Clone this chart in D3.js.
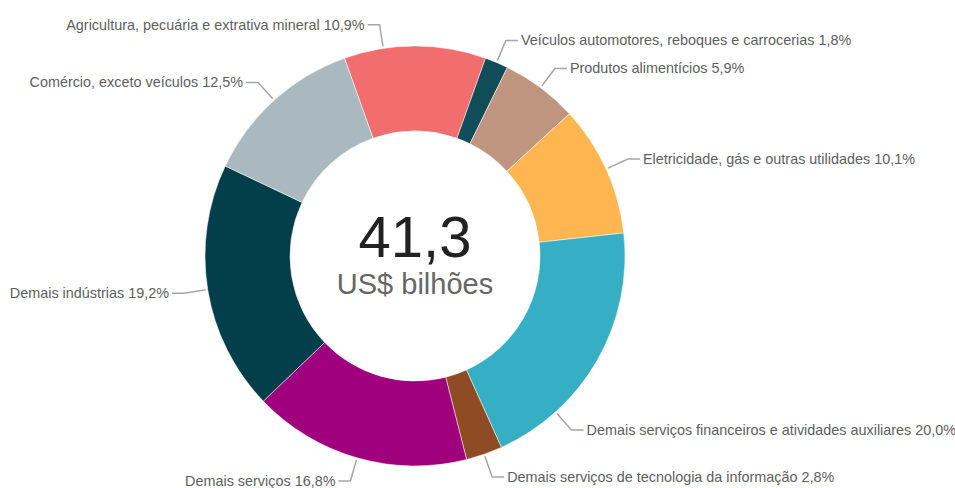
<!DOCTYPE html>
<html><head><meta charset="utf-8">
<script src="https://cdn.jsdelivr.net/npm/d3@7"></script>
<style>html,body{margin:0;padding:0;background:#fff;}svg{display:block;}</style>
</head><body>
<svg id="chart" width="955" height="488"></svg>
<script>
const categories = [
  "Agricultura, pecuária e extrativa mineral",
  "Veículos automotores, reboques e carrocerias",
  "Produtos alimentícios",
  "Eletricidade, gás e outras utilidades",
  "Demais serviços financeiros e atividades auxiliares",
  "Demais serviços de tecnologia da informação",
  "Demais serviços",
  "Demais indústrias",
  "Comércio, exceto veículos"
];
const shares = [10.9, 1.8, 5.9, 10.1, 20.0, 2.8, 16.8, 19.2, 12.5];
const colors = ["#f26d6d", "#114c59", "#c09580", "#ffb651", "#36afc4", "#8f4b23", "#a0007e", "#023f4a", "#a9b9bf"];
const total = "41,3";
const unit = "US$ bilhões";
// label connector attach shift (degrees), layout only
const anchorShift = [-8.7, 0, 0, 0, 18.3, 0, 0, 0, 0];

const svg = d3.select("#chart");
const cx = 415, cy = 256, rOuter = 210, rInner = 125, rElbow = 234, leg = 12, gap = 3;
const g = svg.append("g").attr("transform", `translate(${cx},${cy})`);

const start = -Math.PI * shares[0] / 100;
const pie = d3.pie().sort(null).value(d => d.v).startAngle(start).endAngle(start + 2 * Math.PI);
const data = pie(categories.map((c, i) => ({c, v: shares[i], i})));
const arc = d3.arc().innerRadius(rInner).outerRadius(rOuter);

g.selectAll("path.slice").data(data).join("path")
  .attr("class", "slice")
  .attr("d", arc)
  .attr("fill", d => colors[d.data.i])
  .attr("stroke", "#fff").attr("stroke-width", 0.5);

const fmt = v => v.toFixed(1).replace(".", ",") + "%";

data.forEach(d => {
  const a = (d.startAngle + d.endAngle) / 2 + anchorShift[d.data.i] * Math.PI / 180;
  const sx = Math.sin(a), sy = -Math.cos(a);
  const p0 = [sx * (rOuter + 2), sy * (rOuter + 2)];
  const p1 = [sx * rElbow, sy * rElbow];
  const dir = sx >= 0 ? 1 : -1;
  const p2 = [p1[0] + dir * leg, p1[1]];
  g.append("polyline")
    .attr("points", [p0, p1, p2].map(p => p.join(",")).join(" "))
    .attr("fill", "none").attr("stroke", "#a6a6a6").attr("stroke-width", 1.5);
  g.append("text")
    .attr("x", p2[0] + dir * gap).attr("y", p2[1]).attr("dy", "0.35em")
    .attr("text-anchor", dir > 0 ? "start" : "end")
    .attr("font-family", "Liberation Sans, Arial, sans-serif")
    .attr("font-size", 14.4).attr("fill", "#5e5e5e")
    .text(d.data.c + " " + fmt(d.data.v));
});

g.append("text").attr("x", 0).attr("y", 1).attr("text-anchor", "middle")
  .attr("font-family", "Liberation Sans, Arial, sans-serif").attr("font-size", 58)
  .attr("fill", "#222").text(total);
g.append("text").attr("x", 0).attr("y", 38).attr("text-anchor", "middle")
  .attr("font-family", "Liberation Sans, Arial, sans-serif").attr("font-size", 29)
  .attr("fill", "#666").text(unit);
</script>
</body></html>
